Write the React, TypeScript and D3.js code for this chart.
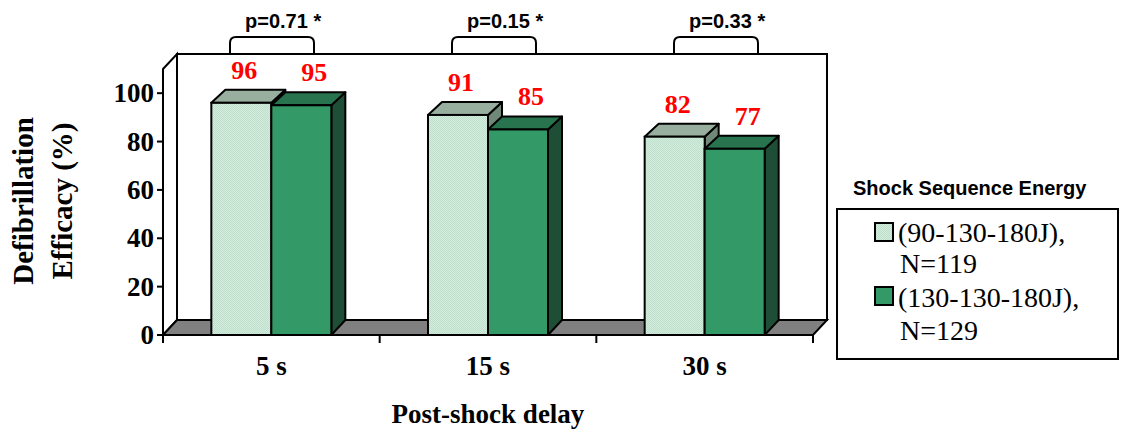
import React from "react";
import * as d3 from "d3";

const categories = ["5 s", "15 s", "30 s"];
const seriesNames = ["(90-130-180J), N=119", "(130-130-180J), N=129"];
const seriesLegendLines = [["(90-130-180J),", "N=119"], ["(130-130-180J),", "N=129"]];
const lowEnergy = [96, 91, 82];
const highEnergy = [95, 85, 77];
const pValues = ["p=0.71 *", "p=0.15 *", "p=0.33 *"];
const yTicks = [0, 20, 40, 60, 80, 100];

const W = 1123;
const H = 430;
const DX = 14;
const DY = 15;
const BDY = 13;
const BAR_W = 60;

const faces = [
  { front: "url(#lightPat)", top: "#98ae9f", side: "#6f8878" },
  { front: "#339966", top: "#28744f", side: "#1e4f36" },
];

export default function App() {
  const x = d3.scaleBand<string>().domain(categories).range([163, 813]).paddingInner(0).paddingOuter(0);
  const y = d3.scaleLinear().domain([0, 110]).range([335, 69]);
  const bracketX = d3.scalePoint<string>().domain(categories).range([272, 716]);
  const y0 = y(0);
  const yTop = y(110);
  const xL = x.range()[0];
  const xR = x.range()[1];
  const data = [lowEnergy, highEnergy];

  const serif = "'Liberation Serif', 'Times New Roman', serif";
  const sans = "'Liberation Sans', Arial, sans-serif";

  return (
    <svg width={W} height={H} style={{ position: "absolute", left: 0, top: 0, background: "#fff" }}>
      <defs>
        <pattern id="lightPat" width="2" height="2" patternUnits="userSpaceOnUse">
          <rect width="2" height="2" fill="#d2ecdd" />
          <rect width="1" height="1" fill="#bfdfcc" />
          <rect x="1" y="1" width="1" height="1" fill="#bfdfcc" />
        </pattern>
      </defs>

      {/* back wall */}
      <rect x={xL + DX} y={yTop - DY} width={xR - xL} height={y0 - yTop} fill="#fff" stroke="#000" strokeWidth={2} />
      {/* left wall */}
      <polygon
        points={`${xL},${yTop} ${xL + DX},${yTop - DY} ${xL + DX},${y0 - DY} ${xL},${y0}`}
        fill="#fff"
        stroke="#000"
        strokeWidth={2}
      />
      {/* floor */}
      <polygon
        points={`${xL},${y0} ${xL + DX},${y0 - DY} ${xR + DX},${y0 - DY} ${xR},${y0}`}
        fill="#808080"
        stroke="#000"
        strokeWidth={2}
      />

      {/* y ticks */}
      {yTicks.map((t) => (
        <g key={t}>
          <line x1={xL - 6} x2={xL} y1={y(t)} y2={y(t)} stroke="#000" strokeWidth={2} />
          <text
            x={xL - 9}
            y={y(t) + 9}
            textAnchor="end"
            fontFamily={serif}
            fontWeight="bold"
            fontSize={27}
          >
            {t}
          </text>
        </g>
      ))}
      <line x1={xL} x2={xL} y1={yTop} y2={y0} stroke="#000" strokeWidth={2} />

      {/* x axis ticks */}
      <line x1={xL} x2={xR} y1={y0} y2={y0} stroke="#000" strokeWidth={2} />
      {[...categories.map((c) => x(c) as number), xR].map((v, i) => (
        <line key={i} x1={v} x2={v} y1={y0} y2={y0 + 8} stroke="#000" strokeWidth={2} />
      ))}

      {/* bars */}
      {categories.map((c, ci) => {
        const center = (x(c) as number) + x.bandwidth() / 2;
        const inner = d3.scaleBand<number>().domain([0, 1]).range([center - BAR_W, center + BAR_W]);
        return (
          <g key={c}>
            {data.map((s, si) => {
              const bx = inner(si) as number;
              const bw = inner.bandwidth();
              const yt = y(s[ci]);
              const f = faces[si];
              return (
                <g key={si}>
                  <polygon
                    points={`${bx + bw},${yt} ${bx + bw + DX},${yt - BDY} ${bx + bw + DX},${y0 - DY} ${bx + bw},${y0}`}
                    fill={f.side}
                    stroke="#000"
                    strokeWidth={2}
                    strokeLinejoin="round"
                  />
                  <polygon
                    points={`${bx},${yt} ${bx + DX},${yt - BDY} ${bx + bw + DX},${yt - BDY} ${bx + bw},${yt}`}
                    fill={f.top}
                    stroke="#000"
                    strokeWidth={2}
                    strokeLinejoin="round"
                  />
                  <rect x={bx} y={yt} width={bw} height={y0 - yt} fill={f.front} stroke="#000" strokeWidth={2} />
                </g>
              );
            })}
            {data.map((s, si) => {
              const bx = inner(si) as number;
              const bw = inner.bandwidth();
              return (
                <text
                  key={"l" + si}
                  x={bx + bw / 2 + (si === 0 ? 3 : 13)}
                  y={y(s[ci]) - 24}
                  textAnchor="middle"
                  fontFamily={serif}
                  fontWeight="bold"
                  fontSize={26}
                  fill="#ff0000"
                >
                  {s[ci]}
                </text>
              );
            })}
            <text
              x={center}
              y={375}
              textAnchor="middle"
              fontFamily={serif}
              fontWeight="bold"
              fontSize={27}
            >
              {c}
            </text>
          </g>
        );
      })}

      {/* p-value brackets */}
      {categories.map((c, ci) => {
        const bc = bracketX(c) as number;
        const hw = 42;
        const yb = yTop - DY - 1;
        const yt = 37;
        const r = 6;
        return (
          <g key={"p" + c}>
            <path
              d={`M${bc - hw},${yb} L${bc - hw},${yt + r} Q${bc - hw},${yt} ${bc - hw + r},${yt} L${bc + hw - r},${yt} Q${bc + hw},${yt} ${bc + hw},${yt + r} L${bc + hw},${yb}`}
              fill="none"
              stroke="#000"
              strokeWidth={2}
            />
            <text x={bc - 27} y={28} fontFamily={sans} fontWeight="bold" fontSize={20}>
              {pValues[ci]}
            </text>
          </g>
        );
      })}

      {/* axis titles */}
      <g transform="translate(33,201) rotate(-90)">
        <text textAnchor="middle" fontFamily={serif} fontWeight="bold" fontSize={29}>
          Defibrillation
        </text>
      </g>
      <g transform="translate(72,201) rotate(-90)">
        <text textAnchor="middle" fontFamily={serif} fontWeight="bold" fontSize={29}>
          Efficacy (%)
        </text>
      </g>
      <text x={488} y={423} textAnchor="middle" fontFamily={serif} fontWeight="bold" fontSize={27}>
        Post-shock delay
      </text>

      {/* legend */}
      <text x={853} y={195} fontFamily={sans} fontWeight="bold" fontSize={20}>
        Shock Sequence Energy
      </text>
      <rect x={837} y={209} width={281} height={150} fill="#fff" stroke="#000" strokeWidth={2} />
      {seriesNames.map((n, i) => (
        <g key={n}>
          <rect x={875} y={223 + i * 64} width={18} height={18} fill={faces[i].front} stroke="#000" strokeWidth={2} />
          <text x={898} y={242 + i * 65} fontFamily={serif} fontSize={28}>
            {seriesLegendLines[i][0]}
          </text>
          <text x={900} y={273 + i * 67} fontFamily={serif} fontSize={28}>
            {seriesLegendLines[i][1]}
          </text>
        </g>
      ))}
    </svg>
  );
}
